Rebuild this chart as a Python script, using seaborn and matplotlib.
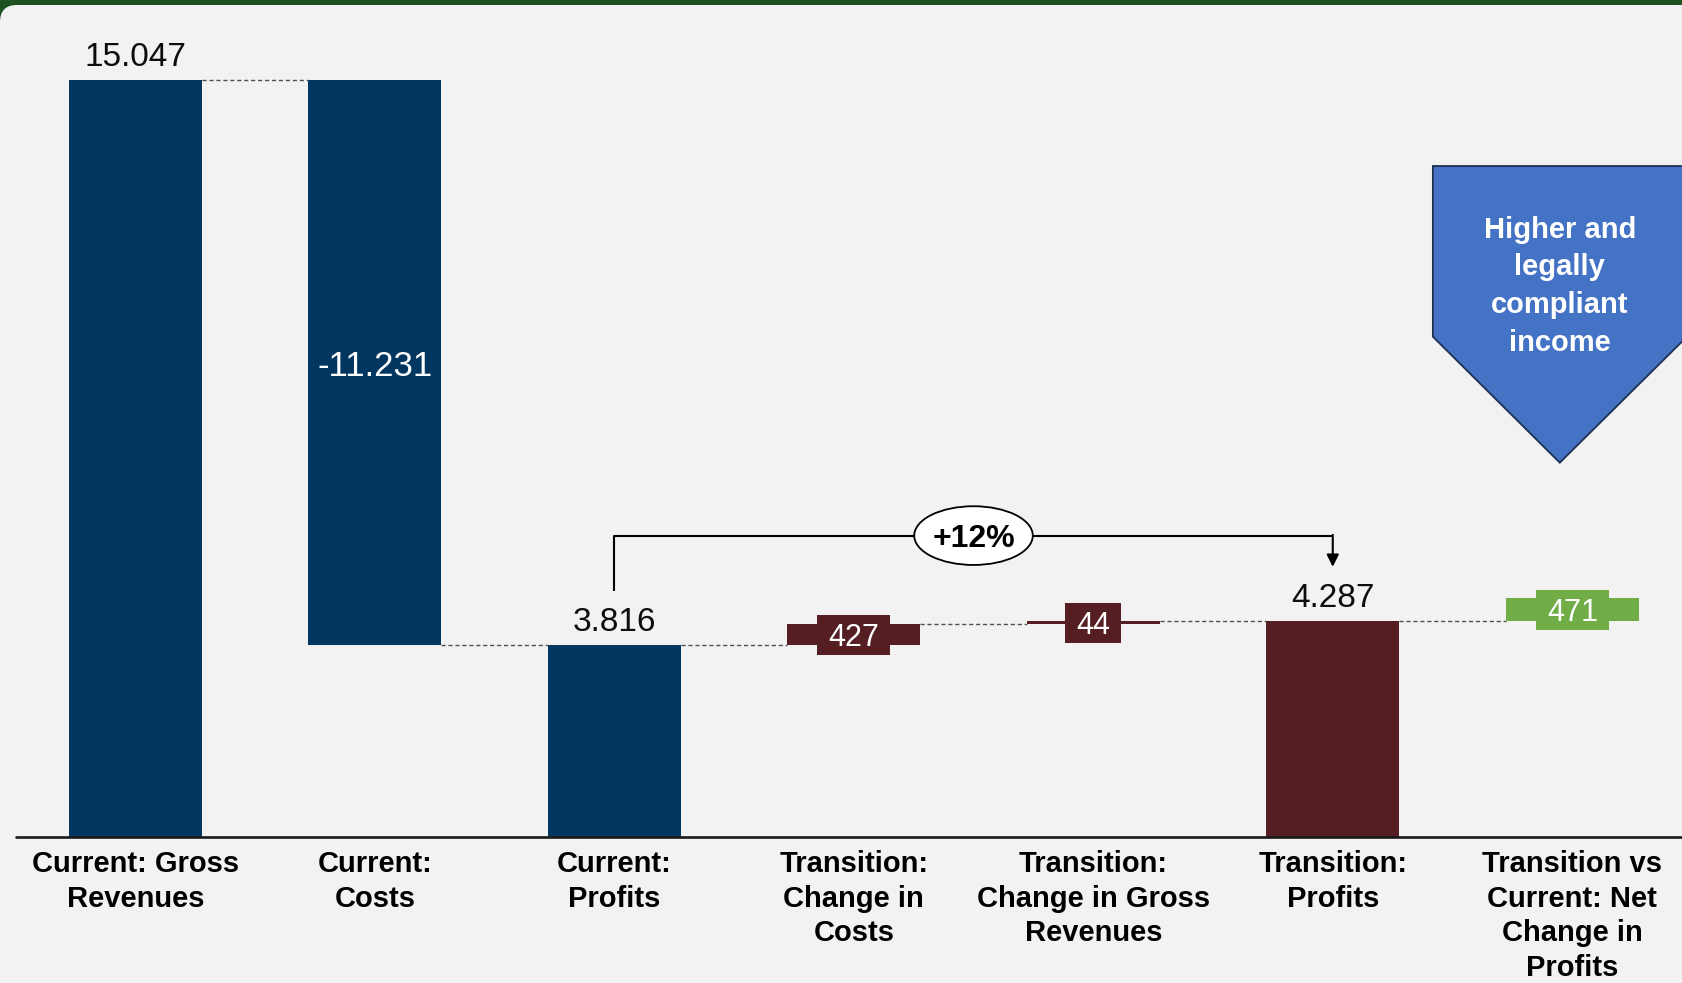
import matplotlib
matplotlib.use("Agg")
import matplotlib.pyplot as plt
from matplotlib.patches import Ellipse, Polygon, FancyBboxPatch
from matplotlib.path import Path
import pandas as pd
import seaborn as sns

# ---------------- data ----------------
steps = [
    "Current: Gross\nRevenues",
    "Current:\nCosts",
    "Current:\nProfits",
    "Transition:\nChange in\nCosts",
    "Transition:\nChange in Gross\nRevenues",
    "Transition:\nProfits",
    "Transition vs\nCurrent: Net\nChange in\nProfits",
]
values = [15047, -11231, 3816, 427, 44, 4287, 471]
is_total = [True, False, True, False, False, True, False]
value_labels = ["15.047", "-11.231", "3.816", "427", "44", "4.287", "471"]
profit_change_label = "+12%"
callout_text = "Higher and\nlegally\ncompliant\nincome"

NAVY = "#003660"
MAROON = "#541E22"
GREEN = "#70AD47"
step_colors = [NAVY, NAVY, NAVY, MAROON, MAROON, MAROON, GREEN]

PANEL = "#F2F2F2"
FRAME = "#1E5321"
CALLOUT = "#4472C4"

NUM_FONT = ["Liberation Sans", "DejaVu Sans"]
CAT_FONT = ["Liberation Sans", "DejaVu Sans"]
BOLD_FONT = ["Liberation Sans", "DejaVu Sans"]

# ---------------- waterfall geometry ----------------
bottoms, heights, levels = [], [], []
level = 0.0
for v, tot in zip(values, is_total):
    if tot:
        bottoms.append(0.0)
        heights.append(v)
        level = v
    else:
        bottoms.append(min(level, level + v))
        heights.append(abs(v))
        level += v
    levels.append(level)
tops = [b + h for b, h in zip(bottoms, heights)]

df = pd.DataFrame({"step": steps, "height": heights})

# ---------------- figure ----------------
sns.set_theme(style="white")
W, H = 16.83, 9.83
fig = plt.figure(figsize=(W, H), dpi=100)
fig.patch.set_facecolor(FRAME)
panel = FancyBboxPatch((0, -1), W + 1, H - 0.05 + 1,
                       boxstyle="round,pad=0,rounding_size=0.17",
                       transform=fig.dpi_scale_trans,
                       facecolor=PANEL, edgecolor="none", zorder=-10)
fig.add_artist(panel)

ax = fig.add_axes([16 / 1683, 146 / 983, 1 - 16 / 1683, 1 - 146 / 983])
ax.patch.set_visible(False)

BAR_W = 0.555
sns.barplot(data=df, x="step", y="height", hue="step", order=steps,
            hue_order=steps, palette=step_colors, width=BAR_W,
            saturation=1, legend=False, ax=ax)

bars = sorted(ax.patches, key=lambda p: p.get_x())
for p, b in zip(bars, bottoms):
    p.set_y(b)
    p.set_linewidth(0)

ax.set_xlim(-0.498, 6.4624)
ax.set_ylim(0, 16648)

# connectors between steps
for i in range(len(values) - 1):
    ax.plot([i + BAR_W / 2, i + 1 - BAR_W / 2], [levels[i], levels[i]],
            ls=(0, (3, 2)), color="#505050", lw=1.0, zorder=1)

# baseline
ax.axhline(0, color="#1a1a1a", lw=1.9, zorder=4, clip_on=False)


def label_box(x0, y0, width, height, mutation_size):
    px = 0.36 * mutation_size
    pb = 0.06 * mutation_size
    pt = 0.26 * mutation_size
    xa, ya = x0 - px, y0 - pb
    xb, yb = x0 + width + px, y0 + height + pt
    return Path([(xa, ya), (xb, ya), (xb, yb), (xa, yb), (xa, ya)],
                closed=True)


for i, (lab, tot) in enumerate(zip(value_labels, is_total)):
    mid = bottoms[i] + heights[i] / 2
    if tot:
        ax.annotate(lab, (i, tops[i]), xytext=(0, 10.4),
                    textcoords="offset points", ha="center", va="baseline",
                    fontsize=24, color="#0D0D0D", family=NUM_FONT)
    elif heights[i] > 2000:
        ax.text(i, mid, lab, ha="center", va="center_baseline",
                fontsize=25, color="white", family=NUM_FONT, zorder=5)
    else:
        ax.text(i, mid, lab, ha="center", va="center_baseline",
                fontsize=22, color="white", family=NUM_FONT, zorder=5,
                bbox=dict(boxstyle=label_box, facecolor=step_colors[i],
                          edgecolor="none"))

# profit change bracket
i_from, i_to = 2, 5
y_start = tops[i_from] + 1077
y_bar = tops[i_to] + 1708
y_tip = tops[i_to] + 1087
ax.plot([i_from, i_from, i_to], [y_start, y_bar, y_bar],
        color="black", lw=1.5, zorder=3, solid_capstyle="butt")
ax.annotate("", xy=(i_to, y_tip), xytext=(i_to, y_bar + 15),
            arrowprops=dict(arrowstyle="-|>", color="black", lw=1.5,
                            mutation_scale=18, shrinkA=0, shrinkB=0),
            zorder=3)
x_mid = (i_from + i_to) / 2
ax.add_patch(Ellipse((x_mid, y_bar), width=0.495, height=1168,
                     facecolor="white", edgecolor="black", lw=1.3, zorder=5))
ax.text(x_mid, y_bar, profit_change_label, ha="center",
        va="center_baseline", fontsize=23, fontweight="bold",
        family=BOLD_FONT, color="black", zorder=6)

# callout pentagon
cx = 5.948
ax.add_patch(Polygon([(5.418, 13346), (6.479, 13346), (6.479, 9951),
                      (cx, 7445), (5.418, 9951)], closed=True,
                     facecolor=CALLOUT, edgecolor="#1F3050", lw=1.3,
                     zorder=2))
ax.text(cx, 10958, callout_text, ha="center", va="center", color="white",
        fontsize=21, fontweight="bold", family=BOLD_FONT, linespacing=1.44,
        zorder=3)

# axes styling
ax.set_xlabel("")
ax.set_ylabel("")
ax.set_yticks([])
for s in ax.spines.values():
    s.set_visible(False)
ax.tick_params(axis="x", length=0, pad=9.5)
ax.set_xticks(range(len(steps)))
ax.set_xticklabels(steps, fontsize=21, fontweight="bold", family=CAT_FONT,
                   color="black", linespacing=1.3, va="top")

fig.savefig("out.png", dpi=100, facecolor=fig.get_facecolor())
